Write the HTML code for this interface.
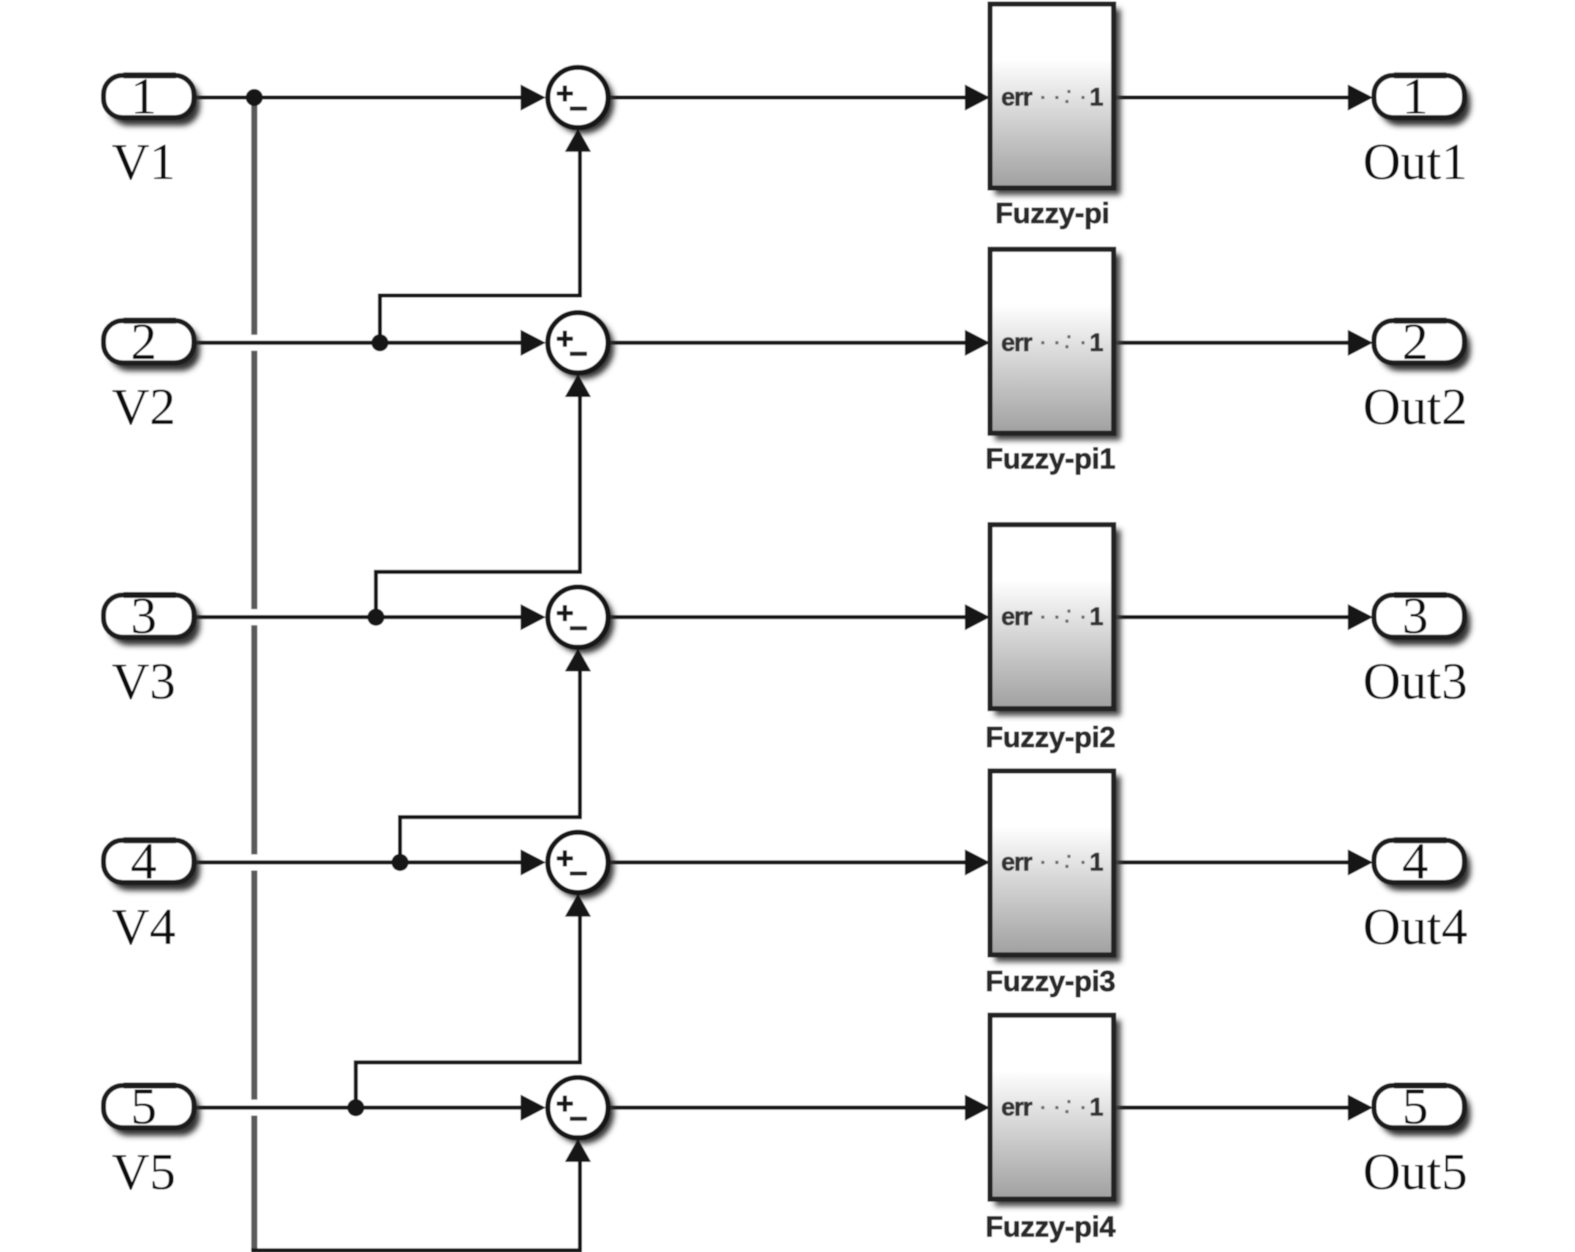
<!DOCTYPE html>
<html><head><meta charset="utf-8"><title>Fuzzy-pi diagram</title>
<style>html,body{margin:0;padding:0;background:#fff}svg{display:block}
.s{font-family:"Liberation Serif",serif;fill:#111}
.n{font-size:52px;text-anchor:middle}.l{font-size:52px;text-anchor:middle}
.f{font-family:"Liberation Sans",sans-serif;font-weight:bold;font-size:29px;fill:#2a2a2a;stroke:#2a2a2a;stroke-width:.7px;text-anchor:middle;letter-spacing:-.3px}
.e{font-family:"Liberation Sans",sans-serif;font-weight:bold;font-size:25px;fill:#333;stroke:#333;stroke-width:.6px;letter-spacing:-1px}
.w{fill:none;stroke:#161314;stroke-width:4}
</style></head><body>
<svg width="1575" height="1252" viewBox="0 0 1567 1245.6" xmlns="http://www.w3.org/2000/svg">
<defs>
<linearGradient id="g" x1="0" y1="0" x2="0" y2="1"><stop offset="0" stop-color="#fff"/><stop offset=".3" stop-color="#fff"/><stop offset=".55" stop-color="#dcdcdc"/><stop offset="1" stop-color="#a0a0a0"/></linearGradient>
<filter id="b" x="-20%" y="-20%" width="140%" height="140%"><feGaussianBlur stdDeviation="3"/></filter>
<filter id="soft" x="0" y="0" width="100%" height="100%"><feGaussianBlur stdDeviation=".5"/></filter>
<g id="port"><rect x="6" y="-16" width="90" height="44" rx="19" fill="#333" filter="url(#b)"/><rect x="0" y="-22" width="90" height="42" rx="19" fill="#fff" stroke="#1e1e1e" stroke-width="5"/><path d="M20 -22H72" stroke="#1e1e1e" stroke-width="6"/></g>
<g id="sum"><circle cx="5" cy="5" r="31" fill="#333" filter="url(#b)"/><circle r="30" fill="#fff" stroke="#161314" stroke-width="5"/><path d="M-21 -4h16M-13 -12v16" stroke="#161314" stroke-width="4" fill="none"/><path d="M-8 11h17" stroke="#222" stroke-width="4"/></g>
<g id="blk"><rect x="5" y="5" width="125" height="185" fill="#444" filter="url(#b)"/><rect x="0" y="0" width="123" height="183" fill="url(#g)" stroke="#222" stroke-width="5"/></g>
<path id="ar" d="M0 -13L25 0L0 13Z" fill="#161314"/>
<path id="au" d="M-13 23L0 0L13 23Z" fill="#161314"/>
<circle id="d" r="8.5" fill="#161314"/>
<path id="dots" d="M0 0h3M14 0h3M26 -6h3M24 4h3M40 0h3" stroke="#666" stroke-width="3" fill="none"/>
</defs>
<g filter="url(#soft)">
<rect width="1567" height="1246" fill="#fff"/>

<!-- trunk -->
<path d="M253 97V333M253 349V606M253 622V850M253 866V1094M253 1110V1244" fill="none" stroke="#5a5a5a" stroke-width="6"/>
<path d="M250 1244H577V1155" class="w"/>

<!-- branches -->
<path d="M378 341V294H577V148" class="w"/>
<path d="M374 614V569H577V392" class="w"/>
<path d="M398 858V813H577V665" class="w"/>
<path d="M354 1102V1057H577V910" class="w"/>

<!-- row wires -->
<path d="M195 97H525M605 97H965M1110 97H1345" class="w"/>
<path d="M195 341H525M605 341H965M1110 341H1345" class="w"/>
<path d="M195 614H525M605 614H965M1110 614H1345" class="w"/>
<path d="M195 858H525M605 858H965M1110 858H1345" class="w"/>
<path d="M195 1102H525M605 1102H965M1110 1102H1345" class="w"/>

<!-- dots -->
<use href="#d" x="253" y="97"/><use href="#d" x="378" y="341"/><use href="#d" x="374" y="614"/><use href="#d" x="398" y="858"/><use href="#d" x="354" y="1102"/>

<!-- ports -->
<use href="#port" x="103" y="97"/><use href="#port" x="103" y="341"/><use href="#port" x="103" y="614"/><use href="#port" x="103" y="858"/><use href="#port" x="103" y="1102"/>
<use href="#port" x="1367" y="97"/><use href="#port" x="1367" y="341"/><use href="#port" x="1367" y="614"/><use href="#port" x="1367" y="858"/><use href="#port" x="1367" y="1102"/>

<!-- sums -->
<use href="#sum" x="575" y="97"/><use href="#sum" x="575" y="341"/><use href="#sum" x="575" y="614"/><use href="#sum" x="575" y="858"/><use href="#sum" x="575" y="1102"/>

<!-- arrows -->
<use href="#ar" x="518" y="97"/><use href="#ar" x="518" y="341"/><use href="#ar" x="518" y="614"/><use href="#ar" x="518" y="858"/><use href="#ar" x="518" y="1102"/>
<use href="#au" x="575" y="128"/><use href="#au" x="575" y="372"/><use href="#au" x="575" y="645"/><use href="#au" x="575" y="889"/><use href="#au" x="575" y="1133"/>
<use href="#ar" x="960" y="97"/><use href="#ar" x="960" y="341"/><use href="#ar" x="960" y="614"/><use href="#ar" x="960" y="858"/><use href="#ar" x="960" y="1102"/>
<use href="#ar" x="1341" y="97"/><use href="#ar" x="1341" y="341"/><use href="#ar" x="1341" y="614"/><use href="#ar" x="1341" y="858"/><use href="#ar" x="1341" y="1102"/>

<!-- blocks -->
<use href="#blk" x="985" y="4"/><use href="#blk" x="985" y="248"/><use href="#blk" x="985" y="522"/><use href="#blk" x="985" y="767"/><use href="#blk" x="985" y="1010"/>
<use href="#dots" x="1036" y="97"/><use href="#dots" x="1036" y="341"/><use href="#dots" x="1036" y="614"/><use href="#dots" x="1036" y="858"/><use href="#dots" x="1036" y="1102"/>

<!-- block inner text -->
<g class="e">
<text x="996" y="105">err</text><text x="1084" y="105">1</text>
<text x="996" y="349">err</text><text x="1084" y="349">1</text>
<text x="996" y="622">err</text><text x="1084" y="622">1</text>
<text x="996" y="866">err</text><text x="1084" y="866">1</text>
<text x="996" y="1110">err</text><text x="1084" y="1110">1</text>
</g>

<!-- block labels -->
<text class="f" x="1047" y="222">Fuzzy-pi</text>
<text class="f" x="1045" y="466">Fuzzy-pi1</text>
<text class="f" x="1045" y="743">Fuzzy-pi2</text>
<text class="f" x="1045" y="986">Fuzzy-pi3</text>
<text class="f" x="1045" y="1230">Fuzzy-pi4</text>

<!-- port numbers -->
<g class="s n">
<text x="143" y="113">1</text><text x="143" y="357">2</text><text x="143" y="630">3</text><text x="143" y="874">4</text><text x="143" y="1118">5</text>
<text x="1408" y="113">1</text><text x="1408" y="357">2</text><text x="1408" y="630">3</text><text x="1408" y="874">4</text><text x="1408" y="1118">5</text>
</g>

<!-- port labels -->
<g class="s l">
<text x="143" y="178">V1</text><text x="143" y="422">V2</text><text x="143" y="695">V3</text><text x="143" y="939">V4</text><text x="143" y="1183">V5</text>
<text x="1408" y="178">Out1</text><text x="1408" y="422">Out2</text><text x="1408" y="695">Out3</text><text x="1408" y="939">Out4</text><text x="1408" y="1183">Out5</text>
</g>
</g>
</svg>
</body></html>
